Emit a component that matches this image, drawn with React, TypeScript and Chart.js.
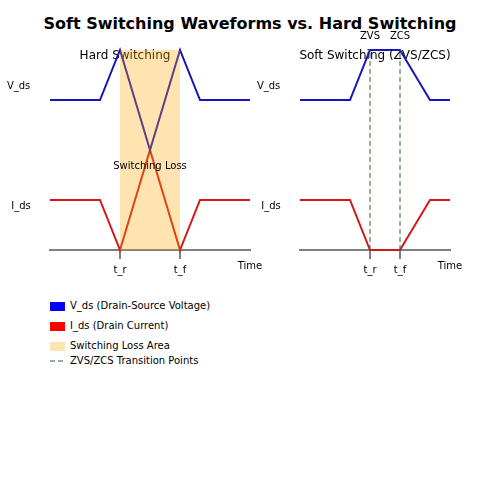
import { useEffect, useRef } from "react";
import Chart from "chart.js/auto";

// waveform breakpoints (time in arbitrary units, level in arbitrary units)
const T_HARD = [0, 2.5, 3.5, 5, 6.5, 7.5, 10];
const VDS_HARD = [3, 3, 4, 2, 4, 3, 3];
const IDS_HARD = [1, 1, 0, 2, 0, 1, 1];
const LOSS_SPAN = [3.5, 6.5];
const LOSS_TOP = 4;

const T_SOFT = [0, 2.5, 3.5, 5, 6.5, 7.5];
const VDS_SOFT = [3, 3, 4, 4, 3, 3];
const IDS_SOFT = [1, 1, 0, 0, 1, 1];
const TRANSITIONS = [3.5, 5];
const TRANSITION_LABELS = ["ZVS", "ZCS"];

const HARD_TICKS = [3.5, 6.5];
const SOFT_TICKS = [3.5, 5];
const TICK_LABELS = ["t_r", "t_f"];

const FONT = '"DejaVu Sans", Verdana, sans-serif';
const BLUE = "#1616b8";
const RED = "#d01a1a";
const AXIS = "rgba(0,0,0,0.5)";
const LOSS_FILL = "rgba(255,165,0,0.3)";
const DASH_GREEN = "rgba(50,100,50,0.5)";

type Note = { text: string; x: number; y: number; size?: number; under?: boolean };

const HARD_NOTES: Note[] = [
  { text: "Hard Switching", x: 3.75, y: 3.88, size: 12, under: true },
  { text: "Switching Loss", x: 5, y: 1.68 },
  { text: "V_ds", x: -1.57, y: 3.28 },
  { text: "I_ds", x: -1.45, y: 0.88 },
  { text: "Time", x: 10, y: -0.32 },
];

const SOFT_NOTES: Note[] = [
  { text: "Soft Switching (ZVS/ZCS)", x: 3.75, y: 3.88, size: 12, under: true },
  { text: "V_ds", x: -1.57, y: 3.28 },
  { text: "I_ds", x: -1.45, y: 0.88 },
  { text: "Time", x: 7.5, y: -0.32 },
  ...TRANSITIONS.map((t, i) => ({ text: TRANSITION_LABELS[i], x: t, y: 4.28 })),
];

function notesPlugin(notes: Note[]) {
  const draw = (chart: any, under: boolean) => {
    const { ctx, scales } = chart;
    ctx.save();
    ctx.textAlign = "center";
    ctx.textBaseline = "middle";
    ctx.fillStyle = "#000";
    for (const n of notes) {
      if (!!n.under !== under) continue;
      ctx.font = `${n.size ?? 10}px ${FONT}`;
      ctx.fillText(n.text, scales.x.getPixelForValue(n.x), scales.y.getPixelForValue(n.y));
    }
    ctx.restore();
  };
  return {
    id: "notes",
    beforeDatasetsDraw: (chart: any) => draw(chart, true),
    afterDraw: (chart: any) => draw(chart, false),
  };
}

const pts = (xs: number[], ys: number[]) => xs.map((x, i) => ({ x, y: ys[i] }));

function wave(label: string, data: any[], color: string) {
  return {
    label,
    data,
    borderColor: color,
    borderWidth: 2,
    pointRadius: 0,
    tension: 0,
    fill: false,
    clip: false as any,
    order: 1,
  };
}

function Panel({ datasets, ticks, max, notes, left, width }: any) {
  const ref = useRef<HTMLCanvasElement>(null);

  useEffect(() => {
    if (!ref.current) return;
    const chart = new Chart(ref.current, {
      type: "line",
      data: { datasets },
      options: {
        animation: false,
        responsive: true,
        maintainAspectRatio: false,
        layout: { padding: { left: 50, right: width - 50 - max * 20, top: 50, bottom: 19 } },
        plugins: { legend: { display: false }, tooltip: { enabled: false } },
        scales: {
          x: {
            type: "linear",
            min: 0,
            max,
            z: 1,
            afterBuildTicks: (s: any) => {
              s.ticks = ticks.map((v: number) => ({ value: v }));
            },
            ticks: {
              callback: (_v: any, i: number) => TICK_LABELS[i],
              font: { family: FONT, size: 10 },
              color: "#000",
              padding: 5,
              maxRotation: 0,
              autoSkip: false,
            },
            grid: { drawOnChartArea: false, drawTicks: true, tickLength: 9, color: AXIS, lineWidth: 2 },
            border: { display: true, color: AXIS, width: 2 },
          },
          y: { display: false, min: 0, max: 4 },
        },
      },
      plugins: [notesPlugin(notes)],
    });
    return () => chart.destroy();
  }, []);

  return (
    <div style={{ position: "absolute", left, top: 0, width, height: 300 }}>
      <canvas ref={ref} />
    </div>
  );
}

const hardSets = [
  {
    label: "Switching Loss Area",
    data: LOSS_SPAN.map((x) => ({ x, y: LOSS_TOP })),
    borderWidth: 0,
    pointRadius: 0,
    backgroundColor: LOSS_FILL,
    fill: "origin",
    order: -1,
  },
  wave("V_ds", pts(T_HARD, VDS_HARD), BLUE),
  wave("I_ds", pts(T_HARD, IDS_HARD), RED),
];

const softSets = [
  wave("V_ds", pts(T_SOFT, VDS_SOFT), BLUE),
  wave("I_ds", pts(T_SOFT, IDS_SOFT), RED),
  ...TRANSITIONS.map((t) => ({
    label: "ZVS/ZCS Transition Points",
    data: [{ x: t, y: 0 }, { x: t, y: LOSS_TOP }],
    borderColor: DASH_GREEN,
    borderWidth: 2,
    borderDash: [5, 3],
    pointRadius: 0,
    fill: false,
    order: 0,
  })),
];

const LEGEND = [
  { label: "V_ds (Drain-Source Voltage)", color: "#0000ff", y: 306 },
  { label: "I_ds (Drain Current)", color: "#ff0000", y: 326 },
  { label: "Switching Loss Area", color: "#ffe4b2", y: 346 },
  { label: "ZVS/ZCS Transition Points", color: null, y: 361 },
];

export default function App() {
  return (
    <div style={{ position: "absolute", left: 0, top: 0, width: 500, height: 500, background: "#fff", fontFamily: FONT }}>
      <div style={{ position: "absolute", left: 0, top: 14, width: 500, textAlign: "center", fontWeight: "bold", fontSize: 16, lineHeight: "20px" }}>
        Soft Switching Waveforms vs. Hard Switching
      </div>
      <Panel datasets={hardSets} ticks={HARD_TICKS} max={10} notes={HARD_NOTES} left={0} width={280} />
      <Panel datasets={softSets} ticks={SOFT_TICKS} max={7.5} notes={SOFT_NOTES} left={250} width={250} />
      {LEGEND.map((item) => (
        <div key={item.label} style={{ position: "absolute", left: 50, top: item.y - 6, height: 12, display: "flex", alignItems: "center", fontSize: 10, lineHeight: "12px" }}>
          {item.color ? (
            <span style={{ width: 15, height: 9, background: item.color, display: "inline-block", marginRight: 5 }} />
          ) : (
            <svg width={15} height={4} style={{ marginRight: 5 }}>
              <line x1={0} y1={2} x2={15} y2={2} stroke={DASH_GREEN} strokeWidth={2} strokeDasharray="5 3" />
            </svg>
          )}
          {item.label}
        </div>
      ))}
    </div>
  );
}
